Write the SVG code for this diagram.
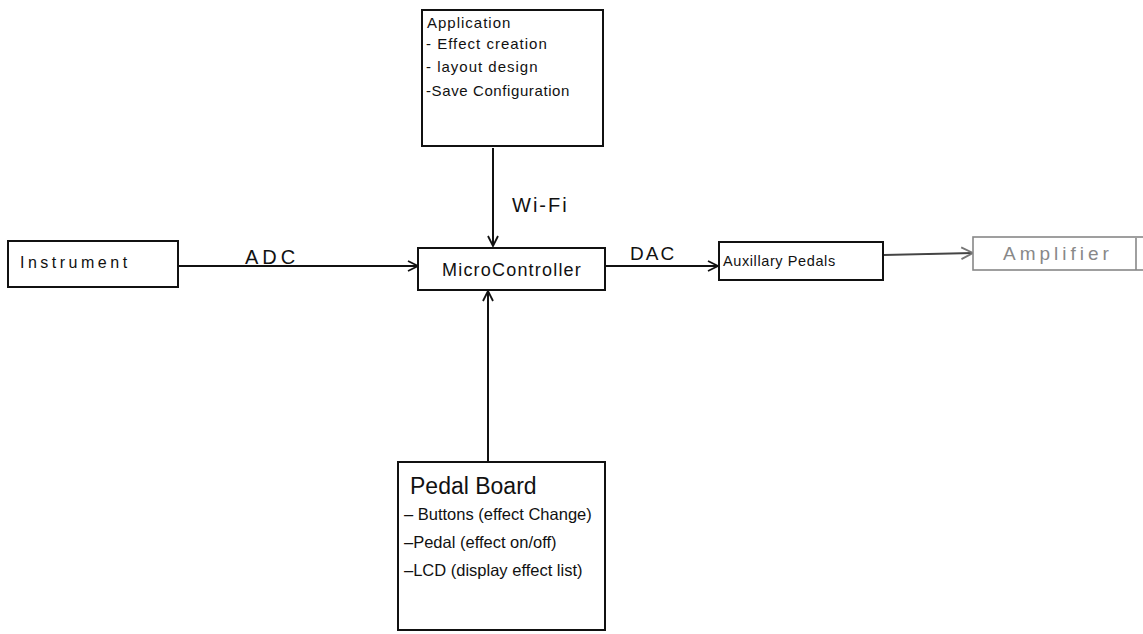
<svg xmlns="http://www.w3.org/2000/svg" width="1143" height="634" viewBox="0 0 1143 634">
<style>
.box{fill:#fff;stroke:#111;stroke-width:2}
.gbox{fill:#fff;stroke:#888;stroke-width:1.6}
.t{font-family:"Liberation Sans",Arial,sans-serif;fill:#111}
.c{fill:none;stroke:#111;stroke-width:2}
.gc{fill:none;stroke:#444;stroke-width:1.8}
</style>
<defs>
<marker id="ah" viewBox="0 0 12 12" refX="11" refY="6" markerWidth="12" markerHeight="12" markerUnits="userSpaceOnUse" orient="auto">
<path d="M1,1 L11,6 L1,11" fill="none" stroke="#111" stroke-width="1.8"/>
</marker>
<marker id="ahg" viewBox="0 0 12 12" refX="11" refY="6" markerWidth="14" markerHeight="14" markerUnits="userSpaceOnUse" orient="auto">
<path d="M1,1 L11,6 L1,11" fill="none" stroke="#777" stroke-width="1.6"/>
</marker>
</defs>
<rect width="1143" height="634" fill="#fff"/>
<g id="connectors">
<line class="c" x1="178" y1="266" x2="418" y2="266" marker-end="url(#ah)"/>
<text class="t" x="245" y="264" font-size="20" letter-spacing="4">ADC</text>
<line class="c" x1="493" y1="148" x2="493" y2="246" marker-end="url(#ah)"/>
<text class="t" x="512" y="212" font-size="20" letter-spacing="2">Wi-Fi</text>
<line class="c" x1="488" y1="462" x2="488" y2="291" marker-end="url(#ah)"/>
<line class="c" x1="605" y1="266" x2="718" y2="266" marker-end="url(#ah)"/>
<text class="t" x="630" y="260" font-size="19" letter-spacing="2">DAC</text>
<line class="gc" x1="884" y1="255" x2="973" y2="253" marker-end="url(#ahg)"/>
</g>
<g id="application">
<rect class="box" x="422" y="10" width="181" height="136"/>
<text class="t" x="427" y="28" font-size="15" letter-spacing="1">Application</text>
<text class="t" x="426" y="49" font-size="15" letter-spacing="1">- Effect creation</text>
<text class="t" x="426" y="72" font-size="15" letter-spacing="1">- layout design</text>
<text class="t" x="426" y="96" font-size="15" letter-spacing="0.6">-Save Configuration</text>
</g>
<g id="instrument">
<rect class="box" x="8" y="241" width="170" height="46"/>
<text class="t" x="20" y="268" font-size="16" letter-spacing="3.5">Instrument</text>
</g>
<g id="microcontroller">
<rect class="box" x="418" y="248" width="187" height="42"/>
<text class="t" x="512" y="276" font-size="18" letter-spacing="1.2" text-anchor="middle">MicroController</text>
</g>
<g id="auxillary">
<rect class="box" x="719" y="242" width="164" height="38"/>
<text class="t" x="723" y="266" font-size="14.5" letter-spacing="0.6">Auxillary Pedals</text>
</g>
<g id="amplifier">
<rect class="gbox" x="973" y="237" width="180" height="33"/>
<line class="gbox" x1="1136" y1="238" x2="1136" y2="270"/>
<text class="t" x="1058" y="260" font-size="19" text-anchor="middle" style="fill:#888" letter-spacing="4">Amplifier</text>
</g>
<g id="pedalboard">
<rect class="box" x="398" y="462" width="207" height="168"/>
<text class="t" x="410" y="494" font-size="23">Pedal Board</text>
<text class="t" x="404" y="520" font-size="16.5">– Buttons (effect Change)</text>
<text class="t" x="404" y="548" font-size="16.5">–Pedal (effect on/off)</text>
<text class="t" x="404" y="576" font-size="16.5">–LCD (display effect list)</text>
</g>
</svg>
